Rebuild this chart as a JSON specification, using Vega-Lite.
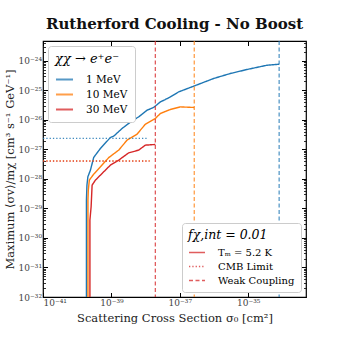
{
  "$schema": "https://vega.github.io/schema/vega-lite/v6.json",
  "autosize": {"type": "none"},
  "width": 263,
  "height": 256,
  "padding": {"left": 43, "top": 41, "right": 34, "bottom": 43},
  "background": "white",
  "config": {
    "font": "DejaVu Serif",
    "view": {"stroke": "black", "strokeWidth": 1.2},
    "axis": {"labelFont": "DejaVu Serif", "titleFont": "DejaVu Serif", "labelFontSize": 9, "titleFontSize": 11.5, "titleFontWeight": "normal", "labelColor": "#444", "titleColor": "#222", "grid": false, "tickColor": "black", "tickSize": -4.5, "labelPadding": 6, "domain": false},
    "legend": {"labelFont": "DejaVu Serif", "titleFont": "DejaVu Serif"}
  },
  "title": {"text": "Rutherford Cooling - No Boost", "font": "DejaVu Serif", "fontSize": 15, "fontWeight": "bold", "offset": 8, "color": "#111"},
  "datasets": {
    "curves": [
      {"m": "1 MeV", "i": 0, "x": 1.862e-40, "y": 1e-32},
      {"m": "1 MeV", "i": 1, "x": 1.862e-40, "y": 1.905e-29},
      {"m": "1 MeV", "i": 2, "x": 1.928e-40, "y": 6.166e-29},
      {"m": "1 MeV", "i": 3, "x": 2.05e-40, "y": 1.178e-28},
      {"m": "1 MeV", "i": 4, "x": 2.438e-40, "y": 1.986e-28},
      {"m": "1 MeV", "i": 5, "x": 3.041e-40, "y": 5.346e-28},
      {"m": "1 MeV", "i": 6, "x": 3.819e-40, "y": 7.638e-28},
      {"m": "1 MeV", "i": 7, "x": 4.775e-40, "y": 1.076e-27},
      {"m": "1 MeV", "i": 8, "x": 9.354e-40, "y": 2.535e-27},
      {"m": "1 MeV", "i": 9, "x": 1.167e-39, "y": 2.805e-27},
      {"m": "1 MeV", "i": 10, "x": 2.051e-39, "y": 5.117e-27},
      {"m": "1 MeV", "i": 11, "x": 4.018e-39, "y": 9.247e-27},
      {"m": "1 MeV", "i": 12, "x": 6.266e-39, "y": 1.265e-26},
      {"m": "1 MeV", "i": 13, "x": 1.102e-38, "y": 2.128e-26},
      {"m": "1 MeV", "i": 14, "x": 1.718e-38, "y": 2.63e-26},
      {"m": "1 MeV", "i": 15, "x": 2.698e-38, "y": 4.064e-26},
      {"m": "1 MeV", "i": 16, "x": 3.776e-38, "y": 4.898e-26},
      {"m": "1 MeV", "i": 17, "x": 5.284e-38, "y": 5.998e-26},
      {"m": "1 MeV", "i": 18, "x": 9.226e-38, "y": 8.851e-26},
      {"m": "1 MeV", "i": 19, "x": 2.529e-37, "y": 1.38e-25},
      {"m": "1 MeV", "i": 20, "x": 9.705e-37, "y": 2.518e-25},
      {"m": "1 MeV", "i": 21, "x": 2.979e-36, "y": 3.715e-25},
      {"m": "1 MeV", "i": 22, "x": 9.162e-36, "y": 5.082e-25},
      {"m": "1 MeV", "i": 23, "x": 3.516e-35, "y": 7.096e-25},
      {"m": "1 MeV", "i": 24, "x": 8.035e-35, "y": 7.674e-25},
      {"m": "10 MeV", "i": 0, "x": 2.061e-40, "y": 1e-32},
      {"m": "10 MeV", "i": 1, "x": 2.061e-40, "y": 1.905e-29},
      {"m": "10 MeV", "i": 2, "x": 2.113e-40, "y": 4.178e-29},
      {"m": "10 MeV", "i": 3, "x": 2.265e-40, "y": 9.099e-29},
      {"m": "10 MeV", "i": 4, "x": 3.041e-40, "y": 1.452e-28},
      {"m": "10 MeV", "i": 5, "x": 4.775e-40, "y": 2.564e-28},
      {"m": "10 MeV", "i": 6, "x": 8.337e-40, "y": 5.26e-28},
      {"m": "10 MeV", "i": 7, "x": 1.633e-39, "y": 9.441e-28},
      {"m": "10 MeV", "i": 8, "x": 2.871e-39, "y": 2.056e-27},
      {"m": "10 MeV", "i": 9, "x": 5.623e-39, "y": 3.281e-27},
      {"m": "10 MeV", "i": 10, "x": 9.84e-39, "y": 7.145e-27},
      {"m": "10 MeV", "i": 11, "x": 1.928e-38, "y": 1.114e-26},
      {"m": "10 MeV", "i": 12, "x": 2.698e-38, "y": 1.644e-26},
      {"m": "10 MeV", "i": 13, "x": 5.284e-38, "y": 2.249e-26},
      {"m": "10 MeV", "i": 14, "x": 1.035e-37, "y": 2.754e-26},
      {"m": "10 MeV", "i": 15, "x": 2.649e-37, "y": 2.63e-26},
      {"m": "30 MeV", "i": 0, "x": 2.355e-40, "y": 1e-32},
      {"m": "30 MeV", "i": 1, "x": 2.355e-40, "y": 4.036e-30},
      {"m": "30 MeV", "i": 2, "x": 2.553e-40, "y": 1.138e-29},
      {"m": "30 MeV", "i": 3, "x": 2.729e-40, "y": 6.166e-29},
      {"m": "30 MeV", "i": 4, "x": 3.412e-40, "y": 9.099e-29},
      {"m": "30 MeV", "i": 5, "x": 5.346e-40, "y": 1.535e-28},
      {"m": "30 MeV", "i": 6, "x": 9.354e-40, "y": 2.931e-28},
      {"m": "30 MeV", "i": 7, "x": 1.633e-39, "y": 4.325e-28},
      {"m": "30 MeV", "i": 8, "x": 3.199e-39, "y": 7.638e-28},
      {"m": "30 MeV", "i": 9, "x": 6.266e-39, "y": 9.441e-28},
      {"m": "30 MeV", "i": 10, "x": 9.84e-39, "y": 1.393e-27},
      {"m": "30 MeV", "i": 11, "x": 1.928e-38, "y": 1.472e-27}
    ],
    "cmb": [
      {"m": "1 MeV", "x0": 1e-41, "x1": 1.089e-38, "y": 2.35e-27},
      {"m": "10 MeV", "x0": 1e-41, "x1": 1.377e-38, "y": 4.093e-28},
      {"m": "30 MeV", "x0": 1e-41, "x1": 1.3e-38, "y": 4.0e-28}
    ],
    "wc": [
      {"m": "1 MeV", "x": 8.035e-35},
      {"m": "10 MeV", "x": 2.649e-37},
      {"m": "30 MeV", "x": 1.928e-38}
    ]
  },
  "layer": [
    {
      "data": {"name": "curves"},
      "mark": {"type": "line", "strokeWidth": 1.4, "clip": true},
      "encoding": {
        "x": {"field": "x", "type": "quantitative", "scale": {"type": "log", "domain": [1e-41, 4.9e-34], "nice": false}, "axis": {"title": "Scattering Cross Section σ₀ [cm²]", "values": [1e-41, 1e-39, 1e-37, 1e-35], "titlePadding": 5, "labelExpr": "'10⁻' + substring('⁰¹²³⁴⁵⁶⁷⁸⁹', floor((-round(log(datum.value)/LN10))/10), floor((-round(log(datum.value)/LN10))/10)+1) + substring('⁰¹²³⁴⁵⁶⁷⁸⁹', (-round(log(datum.value)/LN10))%10, (-round(log(datum.value)/LN10))%10+1)"}},
        "y": {"field": "y", "type": "quantitative", "scale": {"type": "log", "domain": [1e-32, 4.7e-24], "nice": false}, "axis": {"title": "Maximum ⟨σv⟩/mχ [cm³ s⁻¹ GeV⁻¹]", "values": [1e-32, 1e-31, 1e-30, 1e-29, 1e-28, 1e-27, 1e-26, 1e-25, 1e-24], "titlePadding": 3, "labelExpr": "'10⁻' + substring('⁰¹²³⁴⁵⁶⁷⁸⁹', floor((-round(log(datum.value)/LN10))/10), floor((-round(log(datum.value)/LN10))/10)+1) + substring('⁰¹²³⁴⁵⁶⁷⁸⁹', (-round(log(datum.value)/LN10))%10, (-round(log(datum.value)/LN10))%10+1)"}},
        "order": {"field": "i", "type": "quantitative"},
        "color": {"field": "m", "type": "nominal", "scale": {"domain": ["1 MeV", "10 MeV", "30 MeV"], "range": ["#1f77b4", "#ff7f0e", "#d62728"]}, "legend": {"title": "χχ → e⁺e⁻", "orient": "top-left", "offset": 5, "padding": 7, "strokeColor": "#ccc", "fillColor": "white", "cornerRadius": 3, "titleFontSize": 13, "titleFontWeight": "normal", "titleFontStyle": "italic", "titlePadding": 4, "labelFontSize": 10.5, "symbolType": "stroke", "symbolSize": 290, "symbolStrokeWidth": 1.8, "symbolDash": [1, 0], "rowPadding": 0, "labelOffset": 12, "symbolOpacity": 0.8}},
        "strokeDash": {"datum": "Tₘ = 5.2 K", "scale": {"domain": ["Tₘ = 5.2 K", "CMB Limit", "Weak Coupling"], "range": [[1, 0], [1.3, 2], [4, 2.5]]}, "legend": {"title": "fχ,int = 0.01", "orient": "bottom-right", "offset": 5, "padding": 6, "strokeColor": "#ccc", "fillColor": "white", "cornerRadius": 3, "titleFontSize": 12.5, "titleFontWeight": "normal", "titleFontStyle": "italic", "titlePadding": 2, "labelFontSize": 10, "symbolType": "stroke", "symbolSize": 256, "symbolStrokeWidth": 1.5, "symbolStrokeColor": "#d62728", "rowPadding": 0, "labelOffset": 12}}
      }
    },
    {
      "data": {"name": "wc"},
      "mark": {"type": "rule", "strokeWidth": 1.3, "opacity": 0.75},
      "encoding": {
        "x": {"field": "x", "type": "quantitative", "axis": {"orient": "top", "labels": false, "title": null, "values": [1e-41, 1e-39, 1e-37, 1e-35]}},
        "color": {"field": "m", "type": "nominal"},
        "strokeDash": {"datum": "Weak Coupling"}
      }
    },
    {
      "data": {"name": "cmb"},
      "mark": {"type": "rule", "strokeWidth": 1.3, "opacity": 0.85},
      "encoding": {
        "x": {"field": "x0", "type": "quantitative", "axis": null},
        "x2": {"field": "x1"},
        "y": {"field": "y", "type": "quantitative", "axis": {"orient": "right", "labels": false, "title": null, "values": [1e-32, 1e-31, 1e-30, 1e-29, 1e-28, 1e-27, 1e-26, 1e-25, 1e-24]}},
        "color": {"field": "m", "type": "nominal"},
        "strokeDash": {"datum": "CMB Limit"}
      }
    },
    {
      "data": {"name": "cmb"},
      "mark": {"type": "rule", "opacity": 0},
      "encoding": {
        "y": {"field": "y", "type": "quantitative", "axis": {"orient": "left", "labels": false, "title": null, "tickSize": -2.5, "tickWidth": 0.8, "values": [2e-32,3e-32,4e-32,5e-32,6e-32,7e-32,8e-32,9e-32,2e-31,3e-31,4e-31,5e-31,6e-31,7e-31,8e-31,9e-31,2e-30,3e-30,4e-30,5e-30,6e-30,7e-30,8e-30,9e-30,2e-29,3e-29,4e-29,5e-29,6e-29,7e-29,8e-29,9e-29,2e-28,3e-28,4e-28,5e-28,6e-28,7e-28,8e-28,9e-28,2e-27,3e-27,4e-27,5e-27,6e-27,7e-27,8e-27,9e-27,2e-26,3e-26,4e-26,5e-26,6e-26,7e-26,8e-26,9e-26,2e-25,3e-25,4e-25,5e-25,6e-25,7e-25,8e-25,9e-25,2e-24,3e-24,4e-24]}}
      }
    },
    {
      "data": {"name": "cmb"},
      "mark": {"type": "rule", "opacity": 0},
      "encoding": {
        "y": {"field": "y", "type": "quantitative", "axis": {"orient": "right", "labels": false, "title": null, "tickSize": -2.5, "tickWidth": 0.8, "values": [2e-32,3e-32,4e-32,5e-32,6e-32,7e-32,8e-32,9e-32,2e-31,3e-31,4e-31,5e-31,6e-31,7e-31,8e-31,9e-31,2e-30,3e-30,4e-30,5e-30,6e-30,7e-30,8e-30,9e-30,2e-29,3e-29,4e-29,5e-29,6e-29,7e-29,8e-29,9e-29,2e-28,3e-28,4e-28,5e-28,6e-28,7e-28,8e-28,9e-28,2e-27,3e-27,4e-27,5e-27,6e-27,7e-27,8e-27,9e-27,2e-26,3e-26,4e-26,5e-26,6e-26,7e-26,8e-26,9e-26,2e-25,3e-25,4e-25,5e-25,6e-25,7e-25,8e-25,9e-25,2e-24,3e-24,4e-24]}}
      }
    }
  ],
  "resolve": {"axis": {"x": "independent", "y": "independent"}}
}
